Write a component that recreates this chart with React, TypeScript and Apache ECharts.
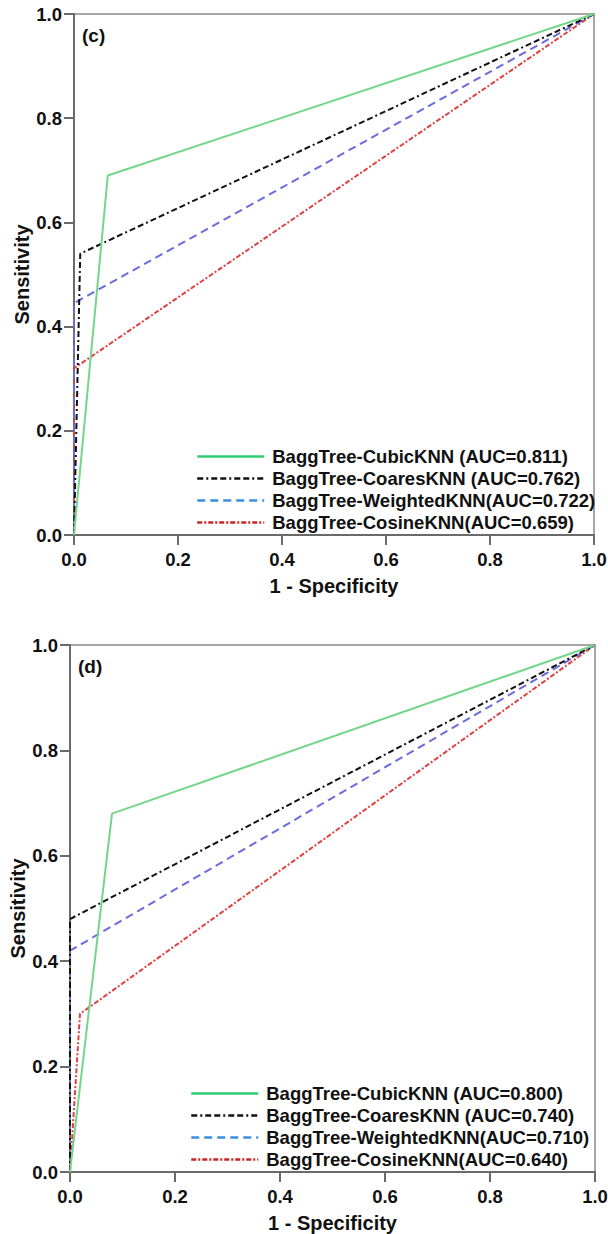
import React, { useEffect, useRef } from "react";
import * as echarts from "echarts";

const models = ["CubicKNN", "CoaresKNN", "WeightedKNN", "CosineKNN"];
const separators = [" ", " ", "", ""];

// panel (c)
const cCubic = [[0, 0], [0.065, 0.69], [1, 1]];
const cCoares = [[0, 0], [0.012, 0.54], [1, 1]];
const cWeighted = [[0, 0], [0, 0.445], [1, 1]];
const cCosine = [[0, 0], [0, 0.32], [1, 1]];
const cAUC = ["0.811", "0.762", "0.722", "0.659"];

// panel (d)
const dCubic = [[0, 0], [0.08, 0.68], [1, 1]];
const dCoares = [[0, 0], [0, 0.48], [1, 1]];
const dWeighted = [[0, 0], [0, 0.42], [1, 1]];
const dCosine = [[0, 0], [0.019, 0.3], [1, 1]];
const dAUC = ["0.800", "0.740", "0.710", "0.640"];

const panelLabels = ["(c)", "(d)"];

const lineColors = ["#74d68a", "#111111", "#6b6be0", "#e04040"];
const legendColors = ["#2fcc6f", "#111111", "#3a8fde", "#cc2222"];
const dashes: any[] = ["solid", [6, 3, 2, 3, 6, 3], [8, 5], [5, 2, 2, 2]];

const FONT = "Liberation Sans, Arial, sans-serif";

export default function App() {
  const ref = useRef<HTMLDivElement>(null);
  useEffect(() => {
    if (!ref.current) return;
    const chart = echarts.init(ref.current, undefined, { renderer: "svg" });
    const panels = [
      { data: [cCubic, cCoares, cWeighted, cCosine], auc: cAUC },
      { data: [dCubic, dCoares, dWeighted, dCosine], auc: dAUC },
    ];
    const grids = [
      { left: 74, top: 14, width: 520, height: 521 },
      { left: 70, top: 645, width: 525, height: 527 },
    ];
    const legendPos = [
      { left: 191, top: 442 },
      { left: 185, top: 1079 },
    ];
    const series: any[] = [];
    const legends: any[] = [];
    panels.forEach((p, gi) => {
      const names: any[] = [];
      p.data.forEach((d, i) => {
        const name = `BaggTree-${models[i]}${separators[i]}(AUC=${p.auc[i]})`;
        series.push({
          type: "line",
          name,
          xAxisIndex: gi,
          yAxisIndex: gi,
          data: d,
          symbol: "none",
          z: 5 - i,
          lineStyle: { color: lineColors[i], width: 2, type: dashes[i] },
          itemStyle: { color: lineColors[i] },
        });
        names.push({
          name,
          lineStyle: { color: legendColors[i], width: 2.5, type: dashes[i] },
          itemStyle: { color: legendColors[i], opacity: 0 },
        });
      });
      legends.push({
        orient: "vertical",
        left: legendPos[gi].left,
        top: legendPos[gi].top,
        itemWidth: 67,
        itemHeight: 14,
        itemGap: 3,
        data: names,
        selectedMode: false,
        textStyle: {
          fontFamily: FONT,
          fontWeight: "bold",
          fontSize: 18.5,
          color: "#111",
          lineHeight: 19,
          padding: [0, 0, 0, 3],
        },
      });
    });
    const axisCommon = (gi: number) => ({
      gridIndex: gi,
      type: "value",
      min: 0,
      max: 1,
      interval: 0.2,
      splitLine: { show: false },
      axisLine: { show: true, lineStyle: { color: "#6a6a6a", width: 2 } },
      axisTick: { show: true, length: 10, lineStyle: { color: "#6a6a6a", width: 2 } },
      nameTextStyle: { fontFamily: FONT, fontWeight: "bold", fontSize: 20, color: "#111" },
      nameLocation: "middle",
      nameMoveOverlap: false,
    });
    const option: any = {
      animation: false,
      grid: grids.map((g) => ({
        ...g,
        show: true,
        borderColor: "#8a8a8a",
        borderWidth: 1.5,
        backgroundColor: "transparent",
        containLabel: false,
        outerBoundsMode: "none",
      })),
      xAxis: [0, 1].map((gi) => ({
        ...axisCommon(gi),
        name: "1 - Specificity",
        nameGap: 41,
        axisLabel: {
          margin: 15,
          fontFamily: FONT,
          fontWeight: "bold",
          fontSize: 18.5,
          color: "#111",
          formatter: (v: number) => v.toFixed(1),
        },
      })),
      yAxis: [0, 1].map((gi) => ({
        ...axisCommon(gi),
        name: "Sensitivity",
        nameGap: 42,
        axisLabel: {
          margin: 12,
          fontFamily: FONT,
          fontWeight: "bold",
          fontSize: 18.5,
          color: "#111",
          formatter: (v: number) => v.toFixed(1),
        },
      })),
      legend: legends,
      series,
      graphic: panelLabels.map((t, gi) => ({
        type: "text",
        left: grids[gi].left + 8,
        top: grids[gi].top + 12,
        style: { text: t, fontFamily: FONT, fontWeight: "bold", fontSize: 19, fill: "#111" },
      })),
    };
    chart.setOption(option);
    return () => chart.dispose();
  }, []);
  return (
    <div
      ref={ref}
      style={{ position: "absolute", left: 0, top: 0, width: 608, height: 1234, background: "#fff" }}
    />
  );
}
